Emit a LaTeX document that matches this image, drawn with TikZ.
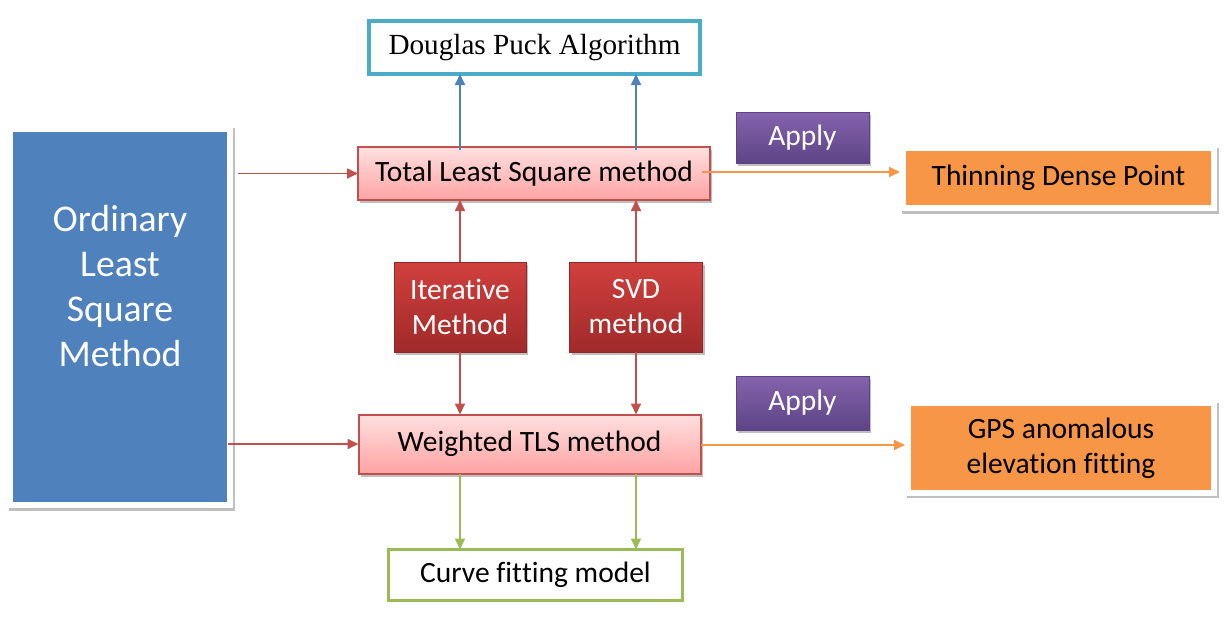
\documentclass[tikz,border=0pt]{standalone}
\usepackage{fontspec}
\setmainfont{Carlito}[Ligatures=NoCommon]
\newfontfamily\tnr{Liberation Serif}
\usetikzlibrary{arrows.meta,shadows,calc}
\newcommand{\nolig}{\kern0pt\relax}
\definecolor{redline}{HTML}{C0504D}
\definecolor{blueline}{HTML}{4F81BD}
\definecolor{orangeline}{HTML}{F79646}
\definecolor{greenline}{HTML}{9BBB59}
\definecolor{tealline}{HTML}{4BACC6}
\definecolor{pinktop}{HTML}{FFE0E0}
\definecolor{pinkbot}{HTML}{FFA3A3}
\definecolor{redtop}{HTML}{D0403D}
\definecolor{redbot}{HTML}{A02A2A}
\definecolor{purtop}{HTML}{8463AC}
\definecolor{purbot}{HTML}{5E4486}
\definecolor{olsblue}{HTML}{4F81BD}
\begin{document}
\begin{tikzpicture}[x=1pt,y=-1pt,
  base/.style={inner sep=0pt, outer sep=0pt, align=center, font=\fontsize{29.5}{35}\selectfont},
  shad/.style={drop shadow={shadow xshift=2pt, shadow yshift=-3pt, opacity=0.25, fill=black}},
  pinkbox/.style={base, shad, draw=redline, line width=2pt, top color=pinktop, bottom color=pinkbot},
  redbox/.style={base, shad, text=white, top color=redtop, bottom color=redbot, draw=redbot!90!black, line width=0.6pt},
  applybox/.style={base, shad, text=white, top color=purtop, bottom color=purbot, draw=purbot, line width=0.6pt},
  frame/.style={inner sep=0pt, outer sep=0pt, fill=white, drop shadow={shadow xshift=1.5pt, shadow yshift=-2.5pt, opacity=0.25, fill=black}},
  orangebox/.style={base, fill=orangeline},
  arr/.style={line width=1.7pt, -{Triangle[length=11pt,width=10pt]}},
]
\useasboundingbox (0,0) rectangle (1225,633);
% Douglas Puck
\node[base, draw=tealline, line width=4pt, fill=white, minimum width=331pt, minimum height=53pt, font=\tnr\fontsize{29.2}{35}\selectfont] (dpa) at (534.5,47.5) {\raisebox{-2pt}{Douglas Puck Algorithm}};
% OLS
\node[frame, minimum width=226pt, minimum height=383pt] (olsout) at (120,316.5) {};
\node[inner sep=0pt, outer sep=0pt, fill=olsblue, minimum width=214pt, minimum height=370pt] (olsin) at (120,316.5) {};
\node[base, text=white, font=\fontsize{37.7}{45}\selectfont] (olst) at (120,286) {Ordinary\\Least\\Square\\Method};
% main boxes
\node[pinkbox, minimum width=352pt, minimum height=53pt] (tls) at (534,173.5) {Total Least Square method};
\node[pinkbox, minimum width=342pt, minimum height=59pt] (wtls) at (529.5,444) {Weighted TLS method};
\node[redbox, minimum width=132pt, minimum height=90pt] (iter) at (460,307) {Iterat\nolig ive\\Method};
\node[redbox, minimum width=133pt, minimum height=90pt] (svd) at (636,307) {SVD\\method};
\node[base, draw=greenline, line width=3pt, fill=white, minimum width=294pt, minimum height=51pt] (curve) at (535.5,575) {Curve f\nolig it\nolig t\nolig ing model};
% apply
\node[applybox, minimum width=133pt, minimum height=51pt] (ap1) at (802.5,137.5) {Apply};
\node[applybox, minimum width=133pt, minimum height=54pt] (ap2) at (802.5,403) {Apply};
% outputs
\node[frame, minimum width=317pt, minimum height=66pt] (thinout) at (1058.5,178) {};
\node[orangebox, minimum width=305pt, minimum height=54pt] (thin) at (1058.5,178) {Thinning Dense Point};
\node[frame, minimum width=312pt, minimum height=95pt] (gpsout) at (1061,448) {};
\node[orangebox, minimum width=300pt, minimum height=84pt] (gps) at (1061,448) {GPS anomalous\\elevat\nolig ion f\nolig it\nolig t\nolig ing};
% connectors
\draw[arr, redline] ([xshift=11pt]olsin.east |- tls.west) -- (tls.west);
\draw[arr, redline] ([xshift=1pt]olsin.east |- wtls.west) -- (wtls.west);
\draw[arr, blueline] ([yshift=-3pt]iter.north |- tls.north) -- (iter.north |- dpa.south);
\draw[arr, blueline] ([yshift=-3pt]svd.north |- tls.north) -- (svd.north |- dpa.south);
\draw[arr, redline] (iter.north) -- (iter.north |- tls.south);
\draw[arr, redline] (svd.north) -- (svd.north |- tls.south);
\draw[arr, redline] (iter.south) -- (iter.south |- wtls.north);
\draw[arr, redline] (svd.south) -- (svd.south |- wtls.north);
\draw[arr, greenline] (iter.south |- wtls.south) -- (iter.south |- curve.north);
\draw[arr, greenline] (svd.south |- wtls.south) -- (svd.south |- curve.north);
\draw[arr, orangeline] ([xshift=-8pt,yshift=1.5pt]tls.east) -- ([yshift=1.5pt]tls.east -| thinout.west);
\draw[arr, orangeline] ([yshift=-1pt]wtls.east) -- ([yshift=-1pt]wtls.east -| gpsout.west);
\end{tikzpicture}
\end{document}
